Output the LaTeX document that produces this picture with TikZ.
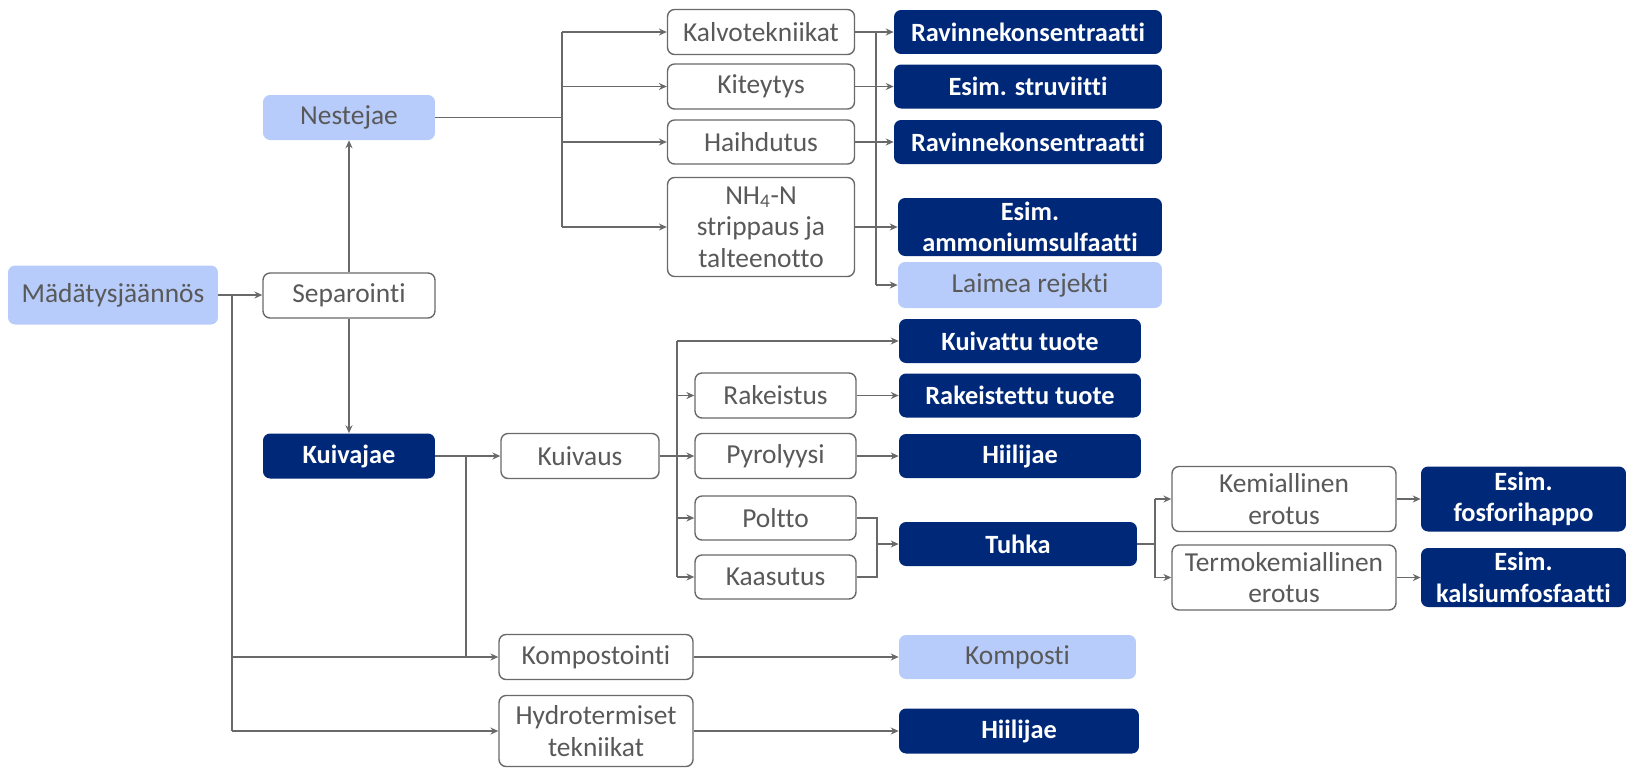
\documentclass[tikz,border=0pt]{standalone}
\usepackage{fontspec}
\setmainfont[Ligatures=NoCommon]{Carlito}
\usetikzlibrary{arrows.meta}

\definecolor{navy}{RGB}{0,40,120}
\definecolor{lightblue}{RGB}{183,204,250}
\definecolor{txtgray}{RGB}{89,89,89}
\definecolor{linegray}{RGB}{105,105,105}

\begin{document}
\begin{tikzpicture}[
        x=0.02cm,
        y=-0.02cm,
        box/.style={
            rectangle,
            rounded corners=4pt,
            inner sep=0pt,
            align=center,
            font=\fontsize{15.6}{18}\selectfont
        },
        proc/.style={
            box,
            draw=linegray,
            line width=0.8pt,
            fill=white,
            text=txtgray
        },
        prod/.style={
            box,
            fill=navy,
            text=white,
            font=\fontsize{15}{18}\selectfont\bfseries
        },
        side/.style={
            box,
            fill=lightblue,
            text=txtgray
        },
        conn/.style={
            draw=linegray,
            line width=0.85pt
        },
        arr/.style={
            conn,
            -{Stealth[length=4.5pt,width=4pt]}
        }
    ]

        \useasboundingbox (0,0) rectangle (1626,768);

        \node[side, minimum width=4.2cm, minimum height=1.18cm] (mad) at (113,295) {Mädätysjäännös};
        \node[proc, minimum width=3.44cm, minimum height=0.9cm] (sep) at (349,295.5) {Separointi};
        \node[side, minimum width=3.44cm, minimum height=0.9cm] (nes) at (349,117.5) {Nestejae};
        \node[prod, minimum width=3.44cm, minimum height=0.9cm] (kui) at (349,456) {Kuivajae};

        \node[proc, minimum width=3.74cm, minimum height=0.9cm] (kalvo) at (761,32) {Kalvotekniikat};
        \node[proc, minimum width=3.74cm, minimum height=0.9cm] (kit) at (761,86.5) {Kiteytys};
        \node[proc, minimum width=3.74cm, minimum height=0.88cm] (hai) at (761,142) {Haihdutus};
        \node[proc, minimum width=3.74cm, minimum height=1.98cm] (nh) at (761,227) {NH\textsubscript{4}-N\\ strippaus ja\\ talteenotto};

        \node[prod, minimum width=5.36cm, minimum height=0.88cm] (rav1) at (1028,32) {Ravinnekonsentraatti};
        \node[prod, minimum width=5.36cm, minimum height=0.88cm] (str) at (1028,86.5) {Esim. struviitti};
        \node[prod, minimum width=5.36cm, minimum height=0.88cm] (rav2) at (1028,142) {Ravinnekonsentraatti};
        \node[prod, minimum width=5.28cm, minimum height=1.16cm] (amm) at (1030,227) {Esim.\\ ammoniumsulfaatti};
        \node[side, minimum width=5.28cm, minimum height=0.92cm] (lai) at (1030,285) {Laimea rejekti};

        \node[proc, minimum width=3.16cm, minimum height=0.9cm] (kuiv) at (580,456) {Kuivaus};
        \node[proc, minimum width=3.22cm, minimum height=0.9cm] (rak) at (775.5,395.5) {Rakeistus};
        \node[proc, minimum width=3.22cm, minimum height=0.9cm] (pyr) at (775.5,456) {Pyrolyysi};
        \node[proc, minimum width=3.22cm, minimum height=0.88cm] (pol) at (775.5,518) {Poltto};
        \node[proc, minimum width=3.22cm, minimum height=0.88cm] (kaa) at (775.5,577) {Kaasutus};

        \node[prod, minimum width=4.84cm, minimum height=0.88cm] (kt) at (1020,341) {Kuivattu tuote};
        \node[prod, minimum width=4.84cm, minimum height=0.88cm] (rt) at (1020,395.5) {Rakeistettu tuote};
        \node[prod, minimum width=4.84cm, minimum height=0.88cm] (hii) at (1020,456) {Hiilijae};
        \node[prod, minimum width=4.76cm, minimum height=0.88cm] (tuh) at (1018,544) {Tuhka};

        \node[proc, minimum width=4.48cm, minimum height=1.3cm] (kem) at (1284,499) {Kemiallinen\\ erotus};
        \node[proc, minimum width=4.48cm, minimum height=1.3cm] (ter) at (1284,577.5) {Termokemiallinen\\ erotus};
        \node[prod, minimum width=4.1cm, minimum height=1.3cm] (fos) at (1523.5,499) {Esim.\\ fosforihappo};
        \node[prod, minimum width=4.1cm, minimum height=1.18cm] (kal) at (1523.5,577.5) {Esim.\\ kalsiumfosfaatti};

        \node[proc, minimum width=3.88cm, minimum height=0.9cm] (komp) at (596,657) {Kompostointi};
        \node[side, minimum width=4.74cm, minimum height=0.88cm] (kompo) at (1017.5,657) {Komposti};
        \node[proc, minimum width=3.88cm, minimum height=1.42cm] (hyd) at (596,731) {Hydrotermiset\\ tekniikat};
        \node[prod, minimum width=4.8cm, minimum height=0.9cm] (hii2) at (1019,731) {Hiilijae};

        \coordinate (trunk) at (232,0);
        \coordinate (kj) at (466,0);
        \coordinate (nb) at (562,0);
        \coordinate (rj) at (876,0);
        \coordinate (kb) at (677,0);
        \coordinate (pm) at (877,0);
        \coordinate (tb) at (1155,0);

        \draw[arr] (mad.east) -- (mad.east -| sep.west);
        \draw[arr] (sep) -- (nes);
        \draw[arr] (sep) -- (kui);

        \draw[conn] (mad.east -| trunk) -- (hyd.west -| trunk);
        \draw[arr] (komp.west -| trunk) -- (komp.west);
        \draw[arr] (hyd.west -| trunk) -- (hyd.west);

        \draw[arr] (kui) -- (kuiv);
        \draw[conn] (kui.east -| kj) -- (komp.west -| kj);

        \draw[conn] (nes.east) -- (nes.east -| nb);
        \draw[conn] (kalvo.west -| nb) -- (nh.west -| nb);
        \foreach \n in {kalvo,kit,hai,nh} {
            \draw[arr] (\n.west -| nb) -- (\n.west);
        }
        \foreach \a/\b in {kalvo/rav1,kit/str,hai/rav2,nh/amm} {
            \draw[arr] (\a) -- (\b);
        }
        \draw[conn] (kalvo.east -| rj) -- (lai.west -| rj);
        \draw[arr] (lai.west -| rj) -- (lai.west);

        \draw[conn] (kuiv.east) -- (kuiv.east -| kb);
        \draw[conn] (kt.west -| kb) -- (kaa.west -| kb);
        \draw[arr] (kt.west -| kb) -- (kt.west);
        \foreach \n in {rak,pyr,pol,kaa} {
            \draw[arr] (\n.west -| kb) -- (\n.west);
        }
        \draw[arr] (rak) -- (rt);
        \draw[arr] (pyr) -- (hii);

        \draw[conn] (pol.east) -- (pol.east -| pm) -- (kaa.east -| pm) -- (kaa.east);
        \draw[arr] (tuh.west -| pm) -- (tuh.west);

        \draw[conn] (tuh.east) -- (tuh.east -| tb);
        \draw[conn] (kem.west -| tb) -- (ter.west -| tb);
        \draw[arr] (kem.west -| tb) -- (kem.west);
        \draw[arr] (ter.west -| tb) -- (ter.west);
        \draw[arr] (kem) -- (fos);
        \draw[arr] (ter) -- (kal);

        \draw[arr] (komp) -- (kompo);
        \draw[arr] (hyd) -- (hii2);

    \end{tikzpicture}
\end{document}
